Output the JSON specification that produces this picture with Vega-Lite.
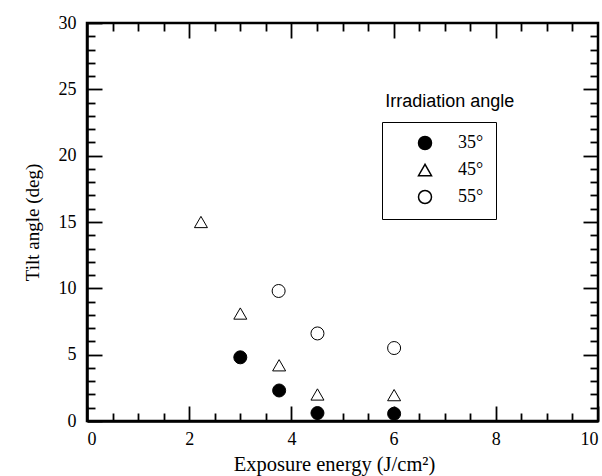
{
  "$schema": "https://vega.github.io/schema/vega-lite/v6.json",
  "width": 511,
  "height": 398,
  "autosize": "none",
  "padding": {"left": 87, "top": 23, "right": 4, "bottom": 55},
  "background": "white",
  "config": {
    "view": {"stroke": "black", "strokeWidth": 2.5},
    "axis": {
      "domainColor": "black", "domainWidth": 2.5, "tickColor": "black", "tickWidth": 1.8,
      "grid": false, "labelFont": "Liberation Serif", "labelFontSize": 18, "labelColor": "black",
      "titleFont": "Liberation Serif", "titleFontSize": 19, "titleFontWeight": "normal", "titleColor": "black"
    }
  },
  "datasets": {
    "pts": [
      {"energy": 3.0, "tilt": 4.8, "angle": "35°"},
      {"energy": 3.76, "tilt": 2.3, "angle": "35°"},
      {"energy": 4.51, "tilt": 0.6, "angle": "35°"},
      {"energy": 6.01, "tilt": 0.55, "angle": "35°"},
      {"energy": 2.23, "tilt": 15.0, "angle": "45°"},
      {"energy": 3.0, "tilt": 8.1, "angle": "45°"},
      {"energy": 3.76, "tilt": 4.2, "angle": "45°"},
      {"energy": 4.51, "tilt": 2.0, "angle": "45°"},
      {"energy": 6.01, "tilt": 1.95, "angle": "45°"},
      {"energy": 3.75, "tilt": 9.8, "angle": "55°"},
      {"energy": 4.51, "tilt": 6.6, "angle": "55°"},
      {"energy": 6.01, "tilt": 5.5, "angle": "55°"}
    ],
    "note": [{"energy": 7.1, "tilt": 23.7, "label": "Irradiation  angle"}]
  },
  "resolve": {"axis": {"x": "independent", "y": "independent"}},
  "layer": [
    {
      "data": {"name": "pts"},
      "mark": {"type": "point", "opacity": 0},
      "encoding": {
        "x": {"field": "energy", "type": "quantitative", "scale": {"domain": [0, 10], "nice": false},
          "axis": {"orient": "top", "values": [0.5,1,1.5,2.5,3,3.5,4.5,5,5.5,6.5,7,7.5,8.5,9,9.5], "tickSize": -8, "labels": false, "domain": false, "title": null}},
        "y": {"field": "tilt", "type": "quantitative", "scale": {"domain": [0, 30], "nice": false},
          "axis": {"orient": "right", "values": [1,2,3,4,6,7,8,9,11,12,13,14,16,17,18,19,21,22,23,24,26,27,28,29], "tickSize": -8, "labels": false, "domain": false, "title": null}}
      }
    },
    {
      "data": {"name": "pts"},
      "mark": {"type": "point", "opacity": 0},
      "encoding": {
        "x": {"field": "energy", "type": "quantitative", "scale": {"domain": [0, 10], "nice": false},
          "axis": {"orient": "top", "values": [2,4,6,8], "tickSize": -15, "labels": false, "domain": false, "title": null}},
        "y": {"field": "tilt", "type": "quantitative", "scale": {"domain": [0, 30], "nice": false},
          "axis": {"orient": "right", "values": [5,10,15,20,25], "tickSize": -15, "labels": false, "domain": false, "title": null}}
      }
    },
    {
      "data": {"name": "pts"},
      "mark": {"type": "point", "opacity": 0},
      "encoding": {
        "x": {"field": "energy", "type": "quantitative", "scale": {"domain": [0, 10], "nice": false},
          "axis": {"orient": "bottom", "values": [0.5,1,1.5,2.5,3,3.5,4.5,5,5.5,6.5,7,7.5,8.5,9,9.5], "tickSize": -8, "labels": false, "domain": false, "title": null}},
        "y": {"field": "tilt", "type": "quantitative", "scale": {"domain": [0, 30], "nice": false},
          "axis": {"orient": "left", "values": [1,2,3,4,6,7,8,9,11,12,13,14,16,17,18,19,21,22,23,24,26,27,28,29], "tickSize": -8, "labels": false, "domain": false, "title": null}}
      }
    },
    {
      "data": {"name": "pts"},
      "mark": {"type": "point", "size": 169, "strokeWidth": 1, "stroke": "black", "filled": true, "opacity": 1},
      "encoding": {
        "x": {"field": "energy", "type": "quantitative", "scale": {"domain": [0, 10], "nice": false},
          "axis": {"orient": "bottom", "values": [0,2,4,6,8,10], "tickSize": -15, "labelPadding": 24, "title": "Exposure energy (J/cm²)", "titleFontSize": 20.5, "titlePadding": 6, "titleX": 247}},
        "y": {"field": "tilt", "type": "quantitative", "scale": {"domain": [0, 30], "nice": false},
          "axis": {"orient": "left", "values": [0,5,10,15,20,25,30], "tickSize": -15, "labelPadding": 26, "title": "Tilt angle (deg)", "titlePadding": 16}},
        "shape": {"field": "angle", "type": "nominal", "scale": {"domain": ["35°","45°","55°"], "range": ["circle","triangle-up","circle"]},
          "legend": {"title": null, "orient": "none", "legendX": 295, "legendY": 99, "strokeColor": "black", "fillColor": "white", "padding": 12, "symbolOffset": 22, "labelOffset": 24, "rowPadding": 8, "symbolSize": 169, "labelFont": "Liberation Serif", "labelFontSize": 18, "labelColor": "black",
            "encode": {"symbols": {"update": {"stroke": {"value": "black"}, "strokeWidth": {"value": 1}}}, "legend": {"update": {"strokeWidth": {"value": 1.5}}}}}},
        "fill": {"field": "angle", "type": "nominal", "scale": {"domain": ["35°","45°","55°"], "range": ["black","white","white"]},
          "legend": {"title": null, "orient": "none", "legendX": 295, "legendY": 99, "strokeColor": "black", "fillColor": "white", "padding": 12, "symbolOffset": 22, "labelOffset": 24, "rowPadding": 8, "symbolSize": 169, "labelFont": "Liberation Serif", "labelFontSize": 18, "labelColor": "black",
            "encode": {"symbols": {"update": {"stroke": {"value": "black"}, "strokeWidth": {"value": 1}}}, "legend": {"update": {"strokeWidth": {"value": 1.5}}}}}}
      }
    },
    {
      "data": {"name": "note"},
      "mark": {"type": "text", "font": "Liberation Sans", "fontSize": 18, "color": "black", "align": "center", "baseline": "alphabetic"},
      "encoding": {
        "x": {"field": "energy", "type": "quantitative", "scale": {"domain": [0, 10], "nice": false}, "axis": null},
        "y": {"field": "tilt", "type": "quantitative", "scale": {"domain": [0, 30], "nice": false}, "axis": null},
        "text": {"field": "label"}
      }
    }
  ]
}
